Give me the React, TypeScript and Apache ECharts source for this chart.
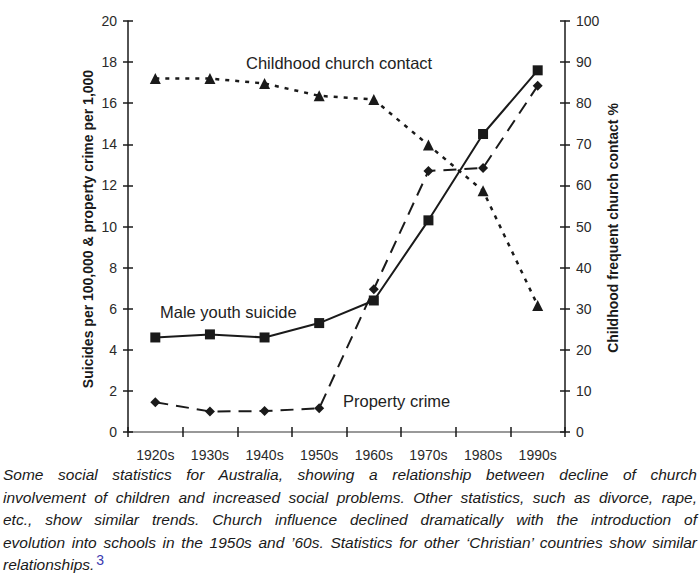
import React, { useEffect, useRef } from "react";
import * as echarts from "echarts";

const categories = ["1920s", "1930s", "1940s", "1950s", "1960s", "1970s", "1980s", "1990s"];
const maleYouthSuicide = [4.6, 4.75, 4.6, 5.3, 6.4, 10.3, 14.5, 17.6];
const propertyCrime = [1.45, 1.0, 1.02, 1.15, 6.95, 12.7, 12.85, 16.85];
const churchContact = [86, 86, 84.8, 81.8, 80.9, 69.8, 58.7, 30.8];

const captionLines = [
  "Some social statistics for Australia, showing a relationship between decline of church",
  "involvement of children and increased social problems. Other statistics, such as divorce, rape,",
  "etc., show similar trends. Church influence declined dramatically with the introduction of",
  "evolution into schools in the 1950s and \u201960s. Statistics for other \u2018Christian\u2019 countries show similar",
];

const FONT = "Liberation Sans, Arial, Helvetica, sans-serif";
const INK = "#1a1a1a";

export default function App() {
  const ref = useRef<HTMLDivElement>(null);

  useEffect(() => {
    document.body.style.margin = "0";
    if (!ref.current) return;
    const chart = echarts.init(ref.current, undefined, { renderer: "svg" });
    const tickLabel = { fontFamily: FONT, fontSize: 14, color: "#2a2a2a" };
    chart.setOption({
      animation: false,
      backgroundColor: "#ffffff",
      grid: { left: 128, right: 135, top: 21, bottom: 26, containLabel: false },
      xAxis: [
        {
          type: "category",
          data: categories,
          position: "bottom",
          boundaryGap: true,
          axisLine: { show: true, lineStyle: { color: INK, width: 1.5 } },
          axisTick: { show: true, inside: false, length: 5, lineStyle: { color: INK, width: 1.5 } },
          axisLabel: { ...tickLabel, margin: 16 },
          splitLine: { show: false },
        },
        {
          type: "category",
          data: categories,
          position: "bottom",
          boundaryGap: true,
          axisLine: { show: false },
          axisTick: { show: true, inside: true, length: 5, lineStyle: { color: INK, width: 1.5 } },
          axisLabel: { show: false },
          splitLine: { show: false },
        },
        {
          type: "category",
          data: categories,
          position: "top",
          boundaryGap: true,
          axisLine: { show: true, lineStyle: { color: "#b0b0b0", width: 1.5 } },
          axisTick: { show: false },
          axisLabel: { show: false },
          splitLine: { show: false },
        },
      ],
      yAxis: [
        {
          type: "value",
          position: "left",
          min: 0,
          max: 20,
          interval: 2,
          axisLine: { show: true, lineStyle: { color: INK, width: 1.5 } },
          axisTick: { show: true, inside: false, length: 5, lineStyle: { color: INK, width: 1.5 } },
          axisLabel: { ...tickLabel, margin: 11 },
          splitLine: { show: false },
        },
        {
          type: "value",
          position: "right",
          min: 0,
          max: 100,
          interval: 10,
          axisLine: { show: true, lineStyle: { color: INK, width: 1.5 } },
          axisTick: { show: true, inside: false, length: 5, lineStyle: { color: INK, width: 1.5 } },
          axisLabel: { ...tickLabel, margin: 11 },
          splitLine: { show: false },
        },
        {
          type: "value",
          position: "left",
          min: 0,
          max: 20,
          interval: 2,
          axisLine: { show: false },
          axisTick: { show: true, inside: true, length: 5, lineStyle: { color: INK, width: 1.5 } },
          axisLabel: { show: false },
          splitLine: { show: false },
        },
        {
          type: "value",
          position: "right",
          min: 0,
          max: 100,
          interval: 10,
          axisLine: { show: false },
          axisTick: { show: true, inside: true, length: 5, lineStyle: { color: INK, width: 1.5 } },
          axisLabel: { show: false },
          splitLine: { show: false },
        },
      ],
      series: [
        {
          name: "Childhood church contact",
          type: "line",
          xAxisIndex: 0,
          yAxisIndex: 1,
          data: churchContact,
          symbol: "triangle",
          symbolSize: 11,
          itemStyle: { color: INK },
          lineStyle: { color: INK, width: 2.5, type: [4, 6] },
          z: 3,
        },
        {
          name: "Property crime",
          type: "line",
          xAxisIndex: 0,
          yAxisIndex: 0,
          data: propertyCrime,
          symbol: "diamond",
          symbolSize: 10,
          itemStyle: { color: INK },
          lineStyle: { color: INK, width: 2, type: [13, 8] },
          z: 4,
        },
        {
          name: "Male youth suicide",
          type: "line",
          xAxisIndex: 0,
          yAxisIndex: 0,
          data: maleYouthSuicide,
          symbol: "rect",
          symbolSize: 10,
          itemStyle: { color: INK },
          lineStyle: { color: INK, width: 2, type: "solid" },
          z: 5,
        },
      ],
      graphic: [
        {
          type: "text",
          x: 246,
          y: 63,
          style: { text: "Childhood church contact", font: `16.5px ${FONT}`, fill: "#222", textVerticalAlign: "middle" },
        },
        {
          type: "text",
          x: 160,
          y: 312,
          style: { text: "Male youth suicide", font: `16.5px ${FONT}`, fill: "#222", textVerticalAlign: "middle" },
        },
        {
          type: "text",
          x: 343,
          y: 401,
          style: { text: "Property crime", font: `16.5px ${FONT}`, fill: "#222", textVerticalAlign: "middle" },
        },
        {
          type: "text",
          x: 88,
          y: 229,
          rotation: Math.PI / 2,
          style: {
            text: "Suicides per 100,000 & property crime per 1,000",
            font: `bold 14px ${FONT}`,
            fill: "#1a1a1a",
            textAlign: "center",
            textVerticalAlign: "middle",
          },
        },
        {
          type: "text",
          x: 613,
          y: 228,
          rotation: Math.PI / 2,
          style: {
            text: "Childhood frequent church contact %",
            font: `bold 14px ${FONT}`,
            fill: "#1a1a1a",
            textAlign: "center",
            textVerticalAlign: "middle",
          },
        },
      ],
    });
    return () => chart.dispose();
  }, []);

  const capFont = "'Liberation Sans', Arial, Helvetica, sans-serif";
  return (
    <div style={{ position: "relative", width: 700, height: 577, background: "#fff", overflow: "hidden" }}>
      <div ref={ref} style={{ position: "absolute", left: 0, top: 0, width: 700, height: 462 }} />
      <div
        style={{
          position: "absolute",
          left: 3,
          top: 464,
          width: 694,
          fontFamily: capFont,
          fontStyle: "italic",
          fontSize: 15.5,
          lineHeight: "22.5px",
          color: "#1a1a1a",
        }}
      >
        {captionLines.map((line, i) => (
          <div key={i} style={{ textAlign: "justify", textAlignLast: "justify", whiteSpace: "nowrap" }}>
            {line}
          </div>
        ))}
        <div style={{ textAlign: "left" }}>
          relationships.
          <span style={{ color: "#3b3bb0", fontSize: 14, fontStyle: "normal", position: "relative", top: -5, marginLeft: 2 }}>3</span>
        </div>
      </div>
    </div>
  );
}
